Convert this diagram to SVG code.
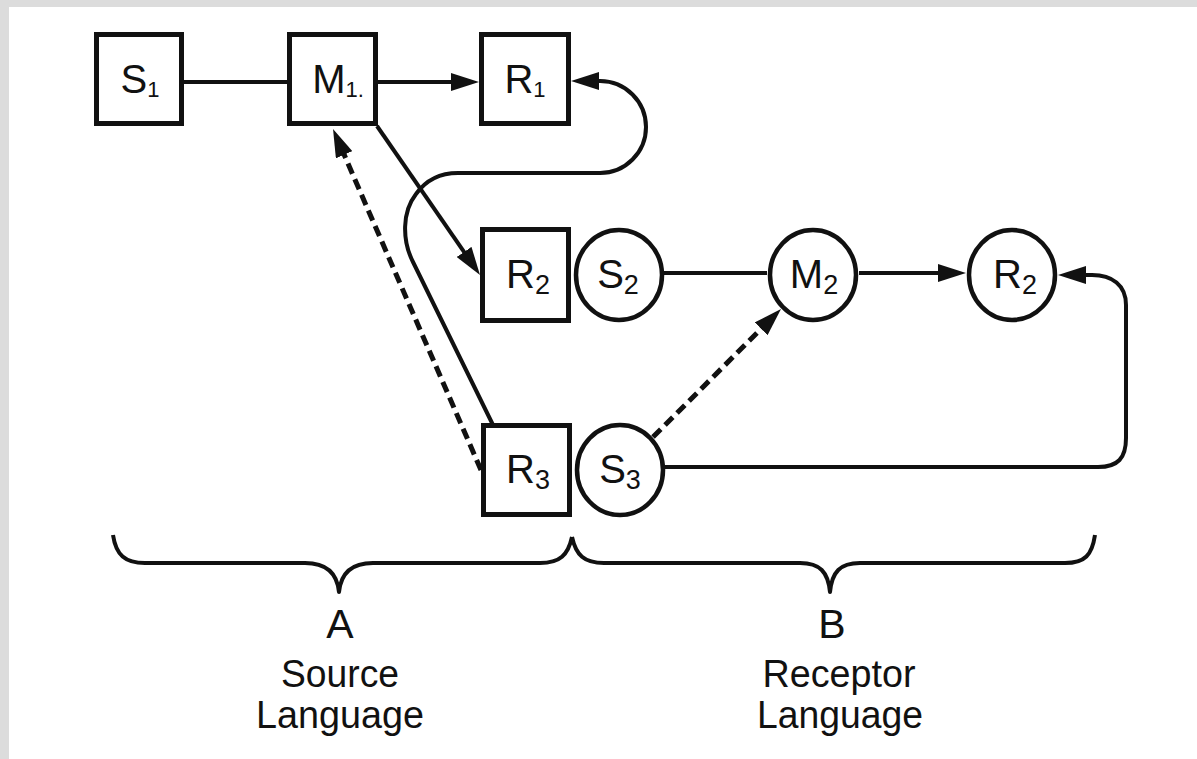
<svg xmlns="http://www.w3.org/2000/svg" width="1197" height="759" viewBox="0 0 1197 759">
  <defs>
    <style>
      .box { fill: #fff; stroke: #111; stroke-width: 5; }
      .ring { fill: #fff; stroke: #111; stroke-width: 4.5; }
      .ln { fill: none; stroke: #111; stroke-width: 4; }
      .dash { fill: none; stroke: #111; stroke-width: 5; stroke-dasharray: 11 6; }
      .brace { fill: none; stroke: #111; stroke-width: 4; stroke-linejoin: round; }
      .lbl { font-family: "Liberation Sans", Arial, sans-serif; font-size: 40px; fill: #111; text-anchor: middle; }
      .s1 { font-size: 22px; }
      .s2 { font-size: 27px; }
      .cap { font-family: "Liberation Sans", Arial, sans-serif; font-size: 41px; fill: #111; text-anchor: middle; }
      .cap2 { font-family: "Liberation Sans", Arial, sans-serif; font-size: 38px; fill: #111; text-anchor: middle; }
    </style>
    <marker id="ah" viewBox="0 0 28 18" refX="15" refY="9" markerWidth="28" markerHeight="18" orient="auto" markerUnits="userSpaceOnUse">
      <path d="M0,0 L28,9 L0,18 z" fill="#111"/>
    </marker>
  </defs>

  <!-- page background with grey frame edges -->
  <rect x="0" y="0" width="1197" height="759" fill="#fff"/>
  <rect x="0" y="0" width="1197" height="7" fill="#dcdcdc"/>
  <rect x="0" y="0" width="9" height="759" fill="#dcdcdc"/>

  <!-- connectors -->
  <g id="connectors">
    <line class="ln" x1="184" y1="82" x2="287" y2="82"/>
    <line class="ln" x1="378" y1="82" x2="466" y2="82" marker-end="url(#ah)"/>
    <line class="ln" x1="377" y1="126" x2="472.6" y2="264.3" marker-end="url(#ah)"/>
    <path class="ln" d="M 493 425 L 413 262 C 402 240, 402 212, 416 194 C 426 180, 440 173, 458 173 L 600 173 A 46 46 0 0 0 600 81 L 584 81" marker-end="url(#ah)"/>
    <line class="dash" x1="481" y1="470" x2="338.2" y2="141" marker-end="url(#ah)"/>
    <line class="ln" x1="664" y1="273" x2="767" y2="273"/>
    <line class="ln" x1="859" y1="273" x2="953" y2="273" marker-end="url(#ah)"/>
    <line class="dash" x1="653" y1="437" x2="771.8" y2="318.2" marker-end="url(#ah)"/>
    <path class="ln" d="M 665 467 L 1098 467 C 1118 467, 1126 458, 1126 438 L 1126 305 C 1126 285, 1112 275, 1092 275 L 1071 275" marker-end="url(#ah)"/>
  </g>

  <!-- source-language message nodes -->
  <g id="S1">
    <rect class="box" x="96.5" y="34.5" width="85" height="89"/>
    <text class="lbl" x="140" y="93">S<tspan class="s1" dy="4">1</tspan></text>
  </g>
  <g id="M1">
    <rect class="box" x="289.5" y="34.5" width="86" height="89"/>
    <text class="lbl" x="338" y="93">M<tspan class="s1" dy="4">1.</tspan></text>
  </g>
  <g id="R1">
    <rect class="box" x="481.5" y="34.5" width="87" height="89"/>
    <text class="lbl" x="525" y="93">R<tspan class="s1" dy="4">1</tspan></text>
  </g>
  <g id="R2">
    <rect class="box" x="482.5" y="229.5" width="86" height="91"/>
    <text class="lbl" x="528" y="288">R<tspan class="s2" dy="6">2</tspan></text>
  </g>
  <g id="R3">
    <rect class="box" x="483.5" y="425.5" width="86" height="89"/>
    <text class="lbl" x="528" y="483">R<tspan class="s2" dy="6">3</tspan></text>
  </g>

  <!-- receptor-language message nodes -->
  <g id="S2">
    <ellipse class="ring" cx="619" cy="275" rx="43" ry="45"/>
    <text class="lbl" x="618" y="288">S<tspan class="s2" dy="6">2</tspan></text>
  </g>
  <g id="M2">
    <ellipse class="ring" cx="813" cy="275" rx="43" ry="45"/>
    <text class="lbl" x="814" y="288">M<tspan class="s2" dy="6">2</tspan></text>
  </g>
  <g id="R2b">
    <ellipse class="ring" cx="1012" cy="275" rx="43" ry="45"/>
    <text class="lbl" x="1015" y="288">R<tspan class="s2" dy="6">2</tspan></text>
  </g>
  <g id="S3">
    <ellipse class="ring" cx="620" cy="470" rx="43" ry="45"/>
    <text class="lbl" x="620" y="483">S<tspan class="s2" dy="6">3</tspan></text>
  </g>

  <!-- braces grouping the two languages -->
  <g id="braceA">
    <path class="brace" d="M 113 535 C 116 555, 125 563, 145 563 L 305 563 C 325 563, 337 572, 339 592 C 341 572, 353 563, 373 563 L 540 563 C 560 563, 568 555, 572 537"/>
    <text class="cap" x="340" y="638">A</text>
    <text class="cap2" x="340" y="687" textLength="118" lengthAdjust="spacingAndGlyphs">Source</text>
    <text class="cap2" x="340" y="728" textLength="168" lengthAdjust="spacingAndGlyphs">Language</text>
  </g>
  <g id="braceB">
    <path class="brace" d="M 572 537 C 576 555, 584 563, 604 563 L 800 563 C 820 563, 828 572, 830 592 C 832 572, 840 563, 860 563 L 1065 563 C 1085 563, 1092 555, 1095 535"/>
    <text class="cap" x="832" y="638">B</text>
    <text class="cap2" x="839" y="687" textLength="153" lengthAdjust="spacingAndGlyphs">Receptor</text>
    <text class="cap2" x="840" y="728" textLength="166" lengthAdjust="spacingAndGlyphs">Language</text>
  </g>
</svg>
